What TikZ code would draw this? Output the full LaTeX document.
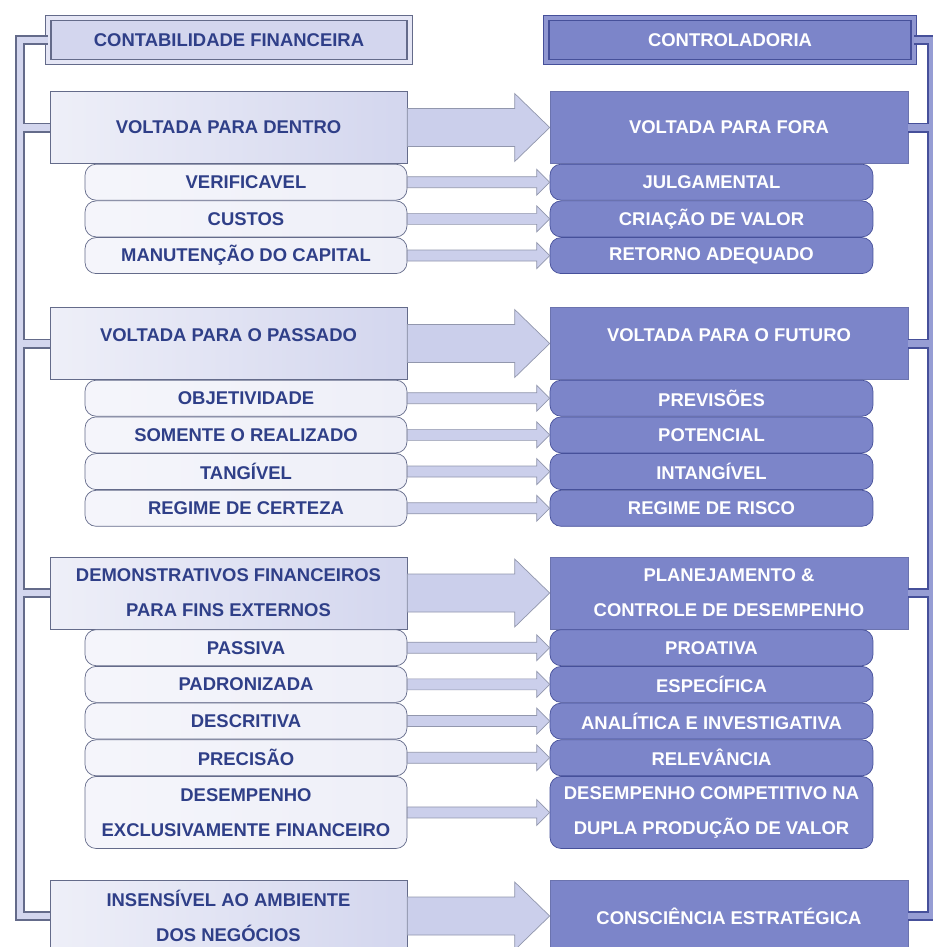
\documentclass[tikz,border=0pt]{standalone}
\usepackage{fontspec}
\setmainfont{Liberation Sans}
\usepackage{xcolor}
\usepackage{tikz}
\usetikzlibrary{positioning,calc}

\definecolor{txtL}{HTML}{2F3F88}
\definecolor{fillL}{HTML}{D3D6EE}
\definecolor{paleL}{HTML}{EEEFF8}
\definecolor{edgeL}{HTML}{646B8A}
\definecolor{fillR}{HTML}{7C85C9}
\definecolor{edgeR}{HTML}{46509A}
\definecolor{arrowL}{HTML}{CBCFEB}

% fat arrow between two boxes: from, to, shaft half, head half, head length
\newcommand{\fatarrow}[5]{%
  \draw[fatarr] ($(#1.east)+(0,-#3)$) -- ($(#2.west)+(-#5,-#3)$) -- ($(#2.west)+(-#5,-#4)$)
    -- (#2.west) -- ($(#2.west)+(-#5,#4)$) -- ($(#2.west)+(-#5,#3)$) -- ($(#1.east)+(0,#3)$) -- cycle;}
\newcommand{\uptext}[1]{\raisebox{4.5pt}[\height][\depth]{#1}}

\begin{document}
\begin{tikzpicture}[x=0.02cm,y=-0.02cm,
    every node/.style={font=\fontsize{10.5}{20}\selectfont\bfseries, align=center, inner sep=0pt},
    fatarr/.style={draw=edgeL!70, fill=arrowL},
    bandL/.style={draw=fillL, line width=0.13cm, preaction={draw=edgeL, line width=0.2cm}},
    bandR/.style={draw=fillR!80, line width=0.13cm, preaction={draw=edgeR, line width=0.2cm}}]
        \tikzstyle{hdrL} = [draw=edgeL, line width=0.7pt, double=fillL!60, double distance=0.08cm, fill=fillL, text=txtL, minimum width=7.23cm, minimum height=0.87cm]
        \tikzstyle{hdrR} = [draw=edgeR, line width=0.7pt, double=fillR!85, double distance=0.08cm, fill=fillR, text=white, minimum width=7.35cm, minimum height=0.87cm]
        \tikzstyle{mainL} = [draw=edgeL, left color=paleL, right color=fillL, text=txtL, minimum width=7.14cm, minimum height=1.44cm]
        \tikzstyle{mainR} = [draw=edgeR!80, fill=fillR, text=white, minimum width=7.16cm, minimum height=1.44cm]
        \tikzstyle{subL} = [draw=edgeL, rounded corners=0.22cm, left color=paleL!60, right color=paleL, text=txtL, minimum width=6.44cm, minimum height=0.72cm]
        \tikzstyle{subR} = [draw=edgeR, rounded corners=0.22cm, fill=fillR, text=white, minimum width=6.46cm, minimum height=0.72cm]
        \useasboundingbox[fill=white] (0,0) rectangle (933,947);

        \node[hdrL] (contab) at (229,40) {CONTABILIDADE FINANCEIRA};
        \node[hdrR] (contr) at (730,40) {CONTROLADORIA};

        \node[mainL] (dentro) at (228.5,127.5) {VOLTADA PARA DENTRO};
        \node[subL, below left = 0pt and 0pt of dentro.south east] (verif) {VERIFICAVEL};
        \node[subL, below = 0pt of verif] (custos) {CUSTOS};
        \node[subL, below = 0pt of custos] (manut) {MANUTENÇÃO DO CAPITAL};
        \node[mainR] (fora) at (729,127.5) {VOLTADA PARA FORA};
        \node[subR, below right = 0pt and 0pt of fora.south west] (julg) {JULGAMENTAL};
        \node[subR, below = 0pt of julg] (criac) {CRIAÇÃO DE VALOR};
        \node[subR, below = 0pt of criac] (retorno) {RETORNO ADEQUADO};

        \node[mainL] (passado) at (228.5,343.5) {\uptext{VOLTADA PARA O PASSADO}};
        \node[subL, below left = 0pt and 0pt of passado.south east] (objet) {OBJETIVIDADE};
        \node[subL, below = 0pt of objet] (somente) {SOMENTE O REALIZADO};
        \node[subL, below = 0pt of somente] (tang) {TANGÍVEL};
        \node[subL, below = 0pt of tang] (certeza) {REGIME DE CERTEZA};
        \node[mainR] (futuro) at (729,343.5) {\uptext{VOLTADA PARA O FUTURO}};
        \node[subR, below right = 0pt and 0pt of futuro.south west] (prev) {PREVISÕES};
        \node[subR, below = 0pt of prev] (potenc) {POTENCIAL};
        \node[subR, below = 0pt of potenc] (intang) {INTANGÍVEL};
        \node[subR, below = 0pt of intang] (risco) {REGIME DE RISCO};

        \node[mainL] (demonst) at (228.5,593) {DEMONSTRATIVOS FINANCEIROS\\PARA FINS EXTERNOS};
        \node[subL, below left = 0pt and 0pt of demonst.south east] (passiva) {PASSIVA};
        \node[subL, below = 0pt of passiva] (padron) {PADRONIZADA};
        \node[subL, below = 0pt of padron] (descr) {DESCRITIVA};
        \node[subL, below = 0pt of descr] (precis) {PRECISÃO};
        \node[subL, below = 0pt of precis, minimum height=1.44cm] (desempL) {DESEMPENHO\\EXCLUSIVAMENTE FINANCEIRO};
        \node[mainR] (planej) at (729,593) {PLANEJAMENTO \&\\CONTROLE DE DESEMPENHO};
        \node[subR, below right = 0pt and 0pt of planej.south west] (proat) {PROATIVA};
        \node[subR, below = 0pt of proat] (especif) {ESPECÍFICA};
        \node[subR, below = 0pt of especif] (analit) {ANALÍTICA E INVESTIGATIVA};
        \node[subR, below = 0pt of analit] (relev) {RELEVÂNCIA};
        \node[subR, below = 0pt of relev, minimum height=1.44cm] (desempR) {DESEMPENHO COMPETITIVO NA\\DUPLA PRODUÇÃO DE VALOR};

        \node[mainL] (insens) at (228.5,916) {INSENSÍVEL AO AMBIENTE\\DOS NEGÓCIOS};
        \node[mainR] (consc) at (729,916) {CONSCIÊNCIA ESTRATÉGICA};

        % brackets on both sides
        \coordinate (lspine) at (20,0);
        \coordinate (rspine) at (932,0);
        \draw[bandL] (contab.west) -- (contab.west -| lspine) -- (insens.west -| lspine) -- (insens.west)
            (dentro.west) -- (dentro.west -| lspine)
            (passado.west) -- (passado.west -| lspine)
            (demonst.west) -- (demonst.west -| lspine);
        \draw[bandR] (contr.east) -- (contr.east -| rspine) -- (consc.east -| rspine) -- (consc.east)
            (fora.east) -- (fora.east -| rspine)
            (futuro.east) -- (futuro.east -| rspine)
            (planej.east) -- (planej.east -| rspine);

        \fatarrow{dentro}{fora}{19}{34}{35}
        \fatarrow{passado}{futuro}{19}{34}{35}
        \fatarrow{demonst}{planej}{19}{34}{35}
        \fatarrow{insens}{consc}{19}{34}{35}
        \fatarrow{verif}{julg}{5.5}{13}{13}
        \fatarrow{custos}{criac}{5.5}{13}{13}
        \fatarrow{manut}{retorno}{5.5}{13}{13}
        \fatarrow{objet}{prev}{5.5}{13}{13}
        \fatarrow{somente}{potenc}{5.5}{13}{13}
        \fatarrow{tang}{intang}{5.5}{13}{13}
        \fatarrow{certeza}{risco}{5.5}{13}{13}
        \fatarrow{passiva}{proat}{5.5}{13}{13}
        \fatarrow{padron}{especif}{5.5}{13}{13}
        \fatarrow{descr}{analit}{5.5}{13}{13}
        \fatarrow{precis}{relev}{5.5}{13}{13}
        \fatarrow{desempL}{desempR}{5.5}{13}{13}
\end{tikzpicture}
\end{document}
